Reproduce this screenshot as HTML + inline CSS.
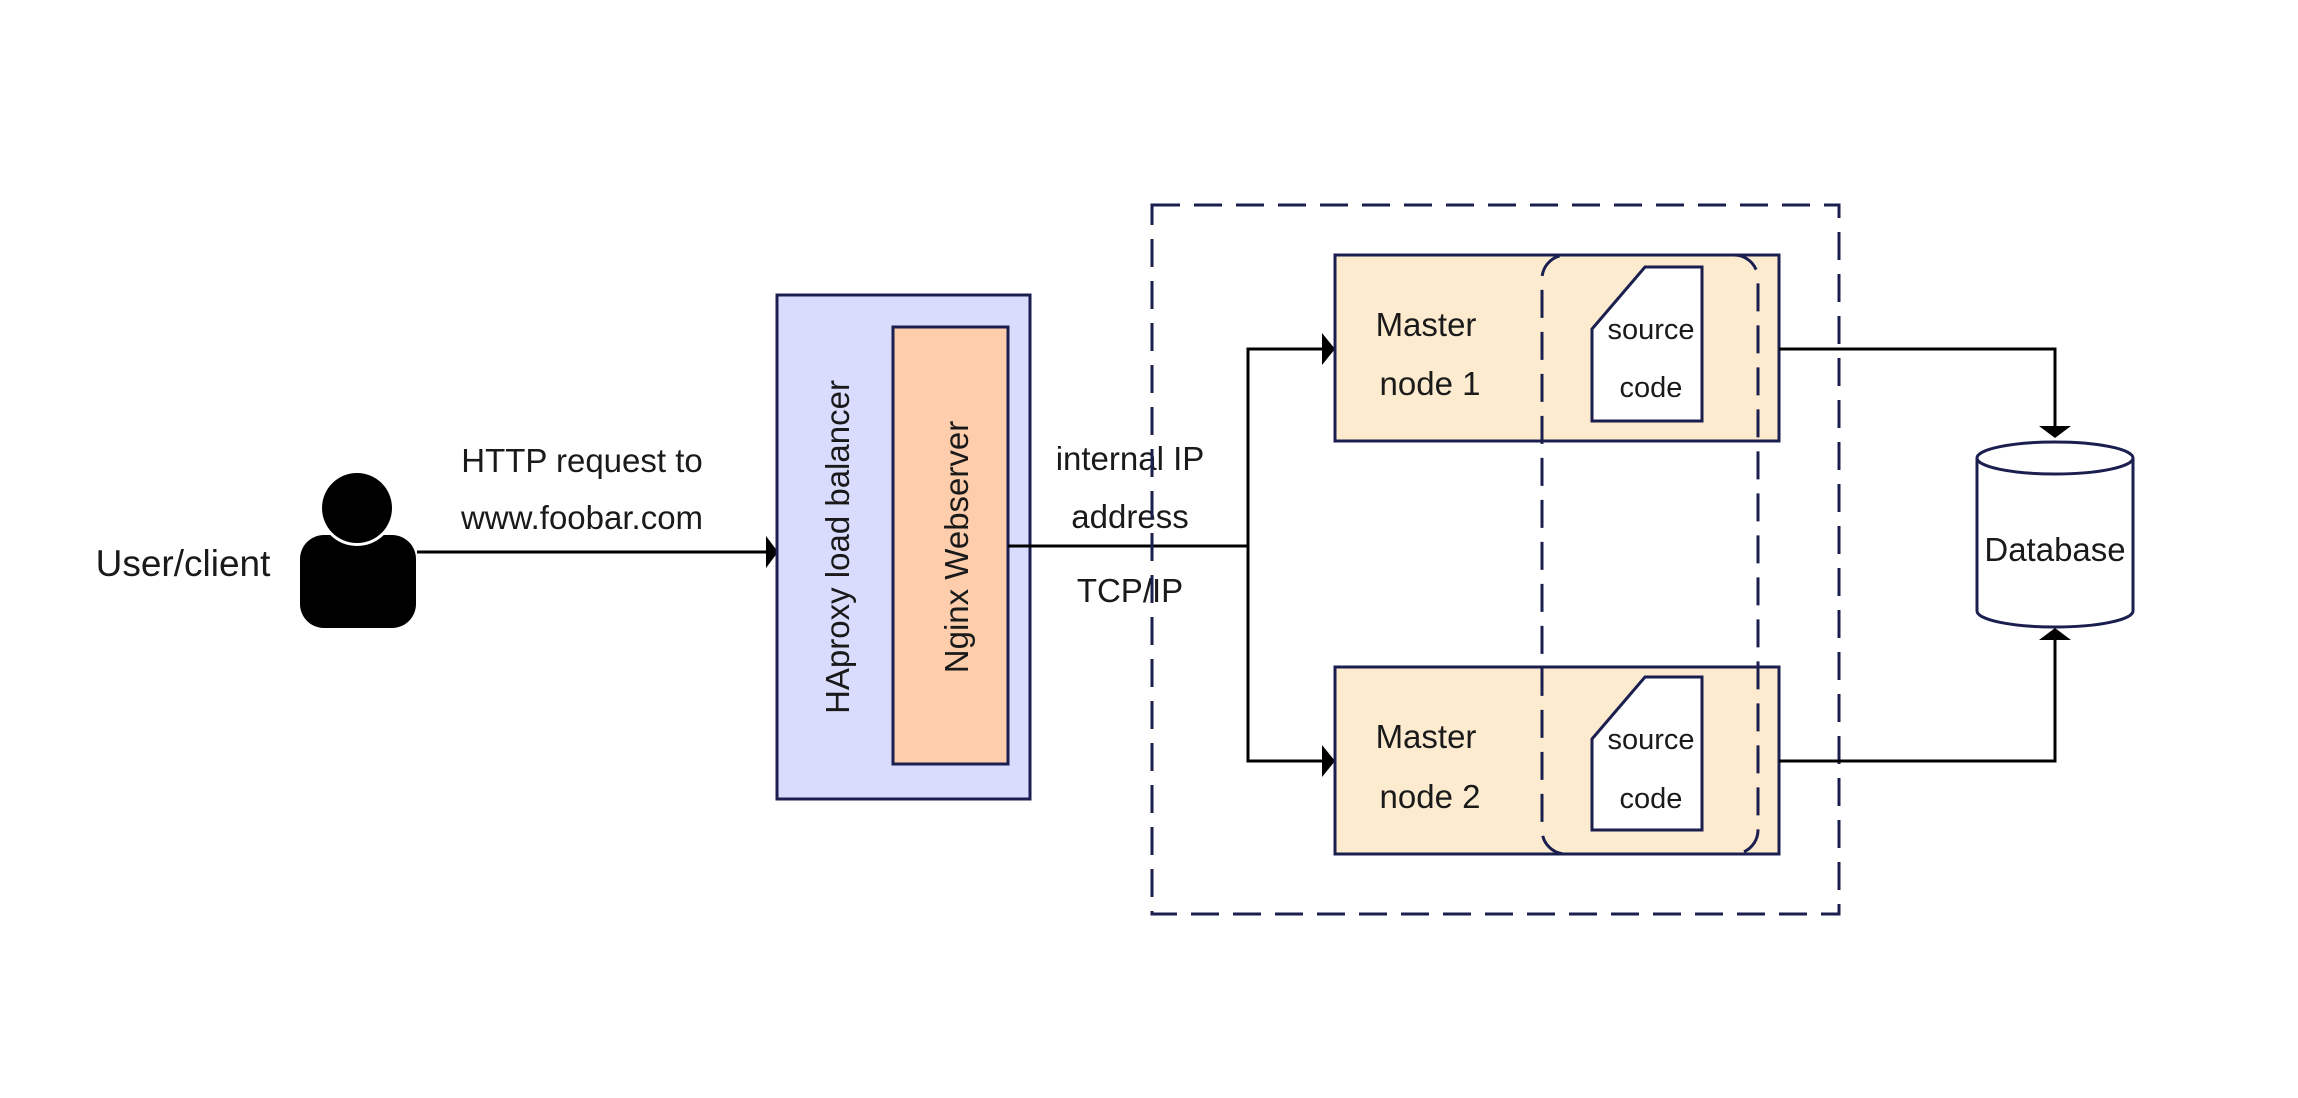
<!DOCTYPE html>
<html><head><meta charset="utf-8"><style>
html,body{margin:0;padding:0;background:#fff;}
svg{display:block;}
text{font-family:"Liberation Sans",Arial,sans-serif;fill:#1a1a1a;}
</style></head><body>
<svg width="2298" height="1098" viewBox="0 0 2298 1098" xmlns="http://www.w3.org/2000/svg">
<rect width="2298" height="1098" fill="#fff"/>
<!-- user -->
<text x="183" y="576" font-size="37" text-anchor="middle">User/client</text>
<rect x="300" y="535" width="116" height="93" rx="24" fill="#000"/>
<circle cx="357" cy="508" r="38" fill="#fff"/>
<circle cx="357" cy="508" r="35" fill="#000"/>
<text x="582" y="472" font-size="33" text-anchor="middle">HTTP request to</text>
<text x="582" y="529" font-size="33" text-anchor="middle">www.foobar.com</text>
<line x1="417" y1="552" x2="768" y2="552" stroke="#000" stroke-width="3"/>
<polygon points="766,536 778,552 766,568" fill="#000"/>
<!-- haproxy -->
<rect x="777" y="295" width="253" height="504" fill="#d9dcfd" stroke="#1b1f4f" stroke-width="3"/>
<rect x="893" y="327" width="115" height="437" fill="#fdcdac" stroke="#1b1f4f" stroke-width="3"/>
<text transform="translate(849,547) rotate(-90)" font-size="33" text-anchor="middle">HAproxy load balancer</text>
<text transform="translate(968,547) rotate(-90)" font-size="33" text-anchor="middle">Nginx Webserver</text>
<!-- connector -->
<line x1="1008" y1="546" x2="1248" y2="546" stroke="#000" stroke-width="3"/>
<polyline points="1324,349 1248,349 1248,761 1324,761" fill="none" stroke="#000" stroke-width="3"/>
<polygon points="1322,333 1335,349 1322,365" fill="#000"/>
<polygon points="1322,745 1335,761 1322,777" fill="#000"/>
<text x="1130" y="470" font-size="33" text-anchor="middle">internal IP</text>
<text x="1130" y="528" font-size="33" text-anchor="middle">address</text>
<text x="1130" y="602" font-size="33" text-anchor="middle">TCP/IP</text>
<!-- outer dashed -->
<rect x="1152" y="205" width="687" height="709" fill="none" stroke="#1b1f4f" stroke-width="3" stroke-dasharray="28,14"/>
<!-- master nodes -->
<rect x="1335" y="255" width="444" height="186" fill="#fdebd0" stroke="#1b1f4f" stroke-width="3"/>
<rect x="1335" y="667" width="444" height="187" fill="#fdebd0" stroke="#1b1f4f" stroke-width="3"/>
<rect x="1542" y="255" width="216" height="599" rx="24" fill="none" stroke="#1b1f4f" stroke-width="3" stroke-dasharray="28,14"/>
<text x="1426" y="336" font-size="33" text-anchor="middle">Master</text>
<text x="1430" y="395" font-size="33" text-anchor="middle">node 1</text>
<text x="1426" y="748" font-size="33" text-anchor="middle">Master</text>
<text x="1430" y="808" font-size="33" text-anchor="middle">node 2</text>
<polygon points="1592,329 1645,267 1702,267 1702,421 1592,421" fill="#fff" stroke="#1b1f4f" stroke-width="3"/>
<polygon points="1592,739 1645,677 1702,677 1702,830 1592,830" fill="#fff" stroke="#1b1f4f" stroke-width="3"/>
<text x="1651" y="339" font-size="29" text-anchor="middle">source</text>
<text x="1651" y="397" font-size="29" text-anchor="middle">code</text>
<text x="1651" y="749" font-size="29" text-anchor="middle">source</text>
<text x="1651" y="808" font-size="29" text-anchor="middle">code</text>
<!-- to db -->
<polyline points="1779,349 2055,349 2055,428" fill="none" stroke="#000" stroke-width="3"/>
<polygon points="2039,426 2071,426 2055,438" fill="#000"/>
<polyline points="1779,761 2055,761 2055,638" fill="none" stroke="#000" stroke-width="3"/>
<polygon points="2039,640 2071,640 2055,628" fill="#000"/>
<!-- database -->
<path d="M1977,458 L1977,611 A78,16 0 0 0 2133,611 L2133,458" fill="#fff" stroke="#1b1f4f" stroke-width="3"/>
<ellipse cx="2055" cy="458" rx="78" ry="16" fill="#fff" stroke="#1b1f4f" stroke-width="3"/>
<text x="2055" y="561" font-size="33" text-anchor="middle">Database</text>
</svg>
</body></html>
